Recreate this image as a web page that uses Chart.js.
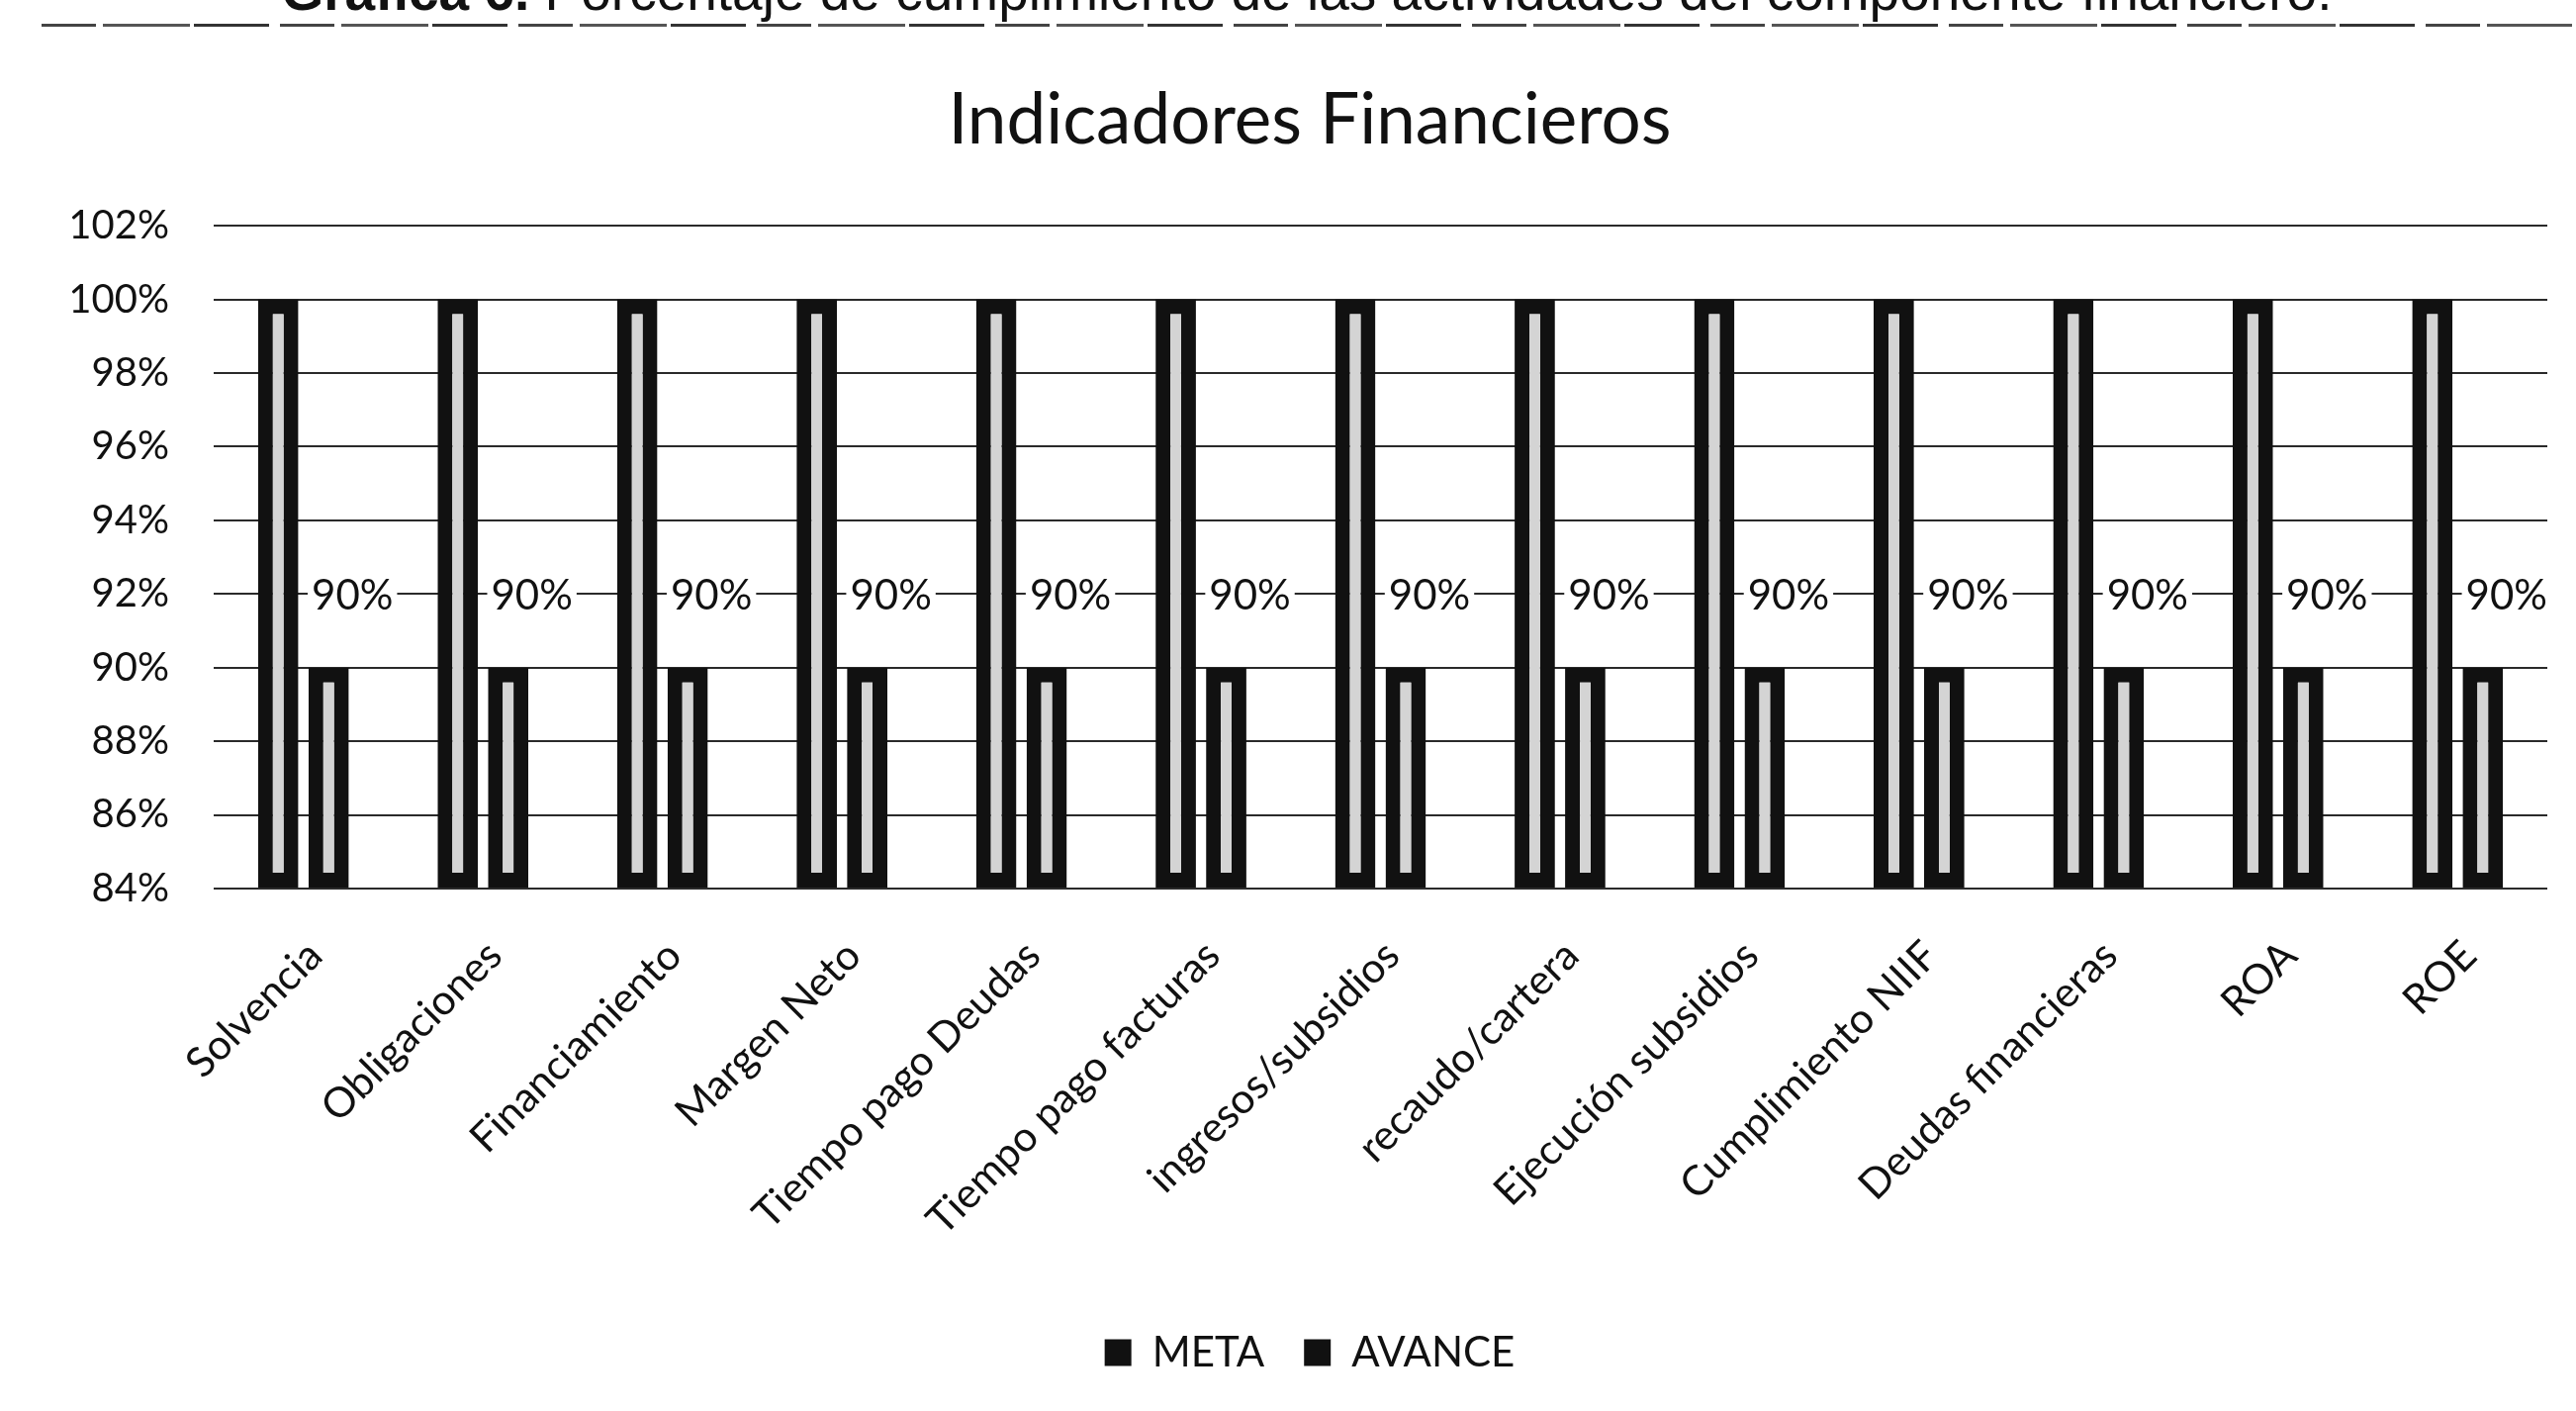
<!DOCTYPE html>
<html lang="es">
<head>
<meta charset="utf-8">
<title>Indicadores Financieros</title>
<script src="https://cdn.jsdelivr.net/npm/chart.js@4.4.1/dist/chart.umd.min.js"></script>
<style>
  html, body { margin: 0; padding: 0; background: #fff; }
  #wrap { position: relative; width: 2604px; height: 1426px; overflow: hidden; background: #fff; }
  #leyenda-grafica {
    position: absolute; top: -36px; left: 19px; width: 2604px;
    text-align: center; white-space: nowrap;
    font-family: "Liberation Sans", Arial, sans-serif; font-size: 55px; line-height: 1; color: #111;
  }
  #raya {
    position: absolute; top: 24px; left: 42px; width: 2558px; height: 3px;
    background: repeating-linear-gradient(90deg, #444 0 55px, #fff 55px 62px, #555 62px 150px, #fff 150px 154px, #333 154px 230px, #fff 230px 241px);
  }
  #grafica { position: absolute; top: 0; left: 0; }
</style>
</head>
<body>
<div id="wrap">
  <div id="leyenda-grafica"><b>Gráfica 6.</b> Porcentaje de cumplimiento de las actividades del componente financiero.</div>
  <div id="raya"></div>
  <canvas id="grafica" width="2604" height="1426"></canvas>
</div>
<script>
// Indicadores y porcentajes
const categorias = [
  'Solvencia', 'Obligaciones', 'Financiamiento', 'Margen Neto',
  'Tiempo pago Deudas', 'Tiempo pago facturas', 'ingresos/subsidios',
  'recaudo/cartera', 'Ejecución subsidios', 'Cumplimiento NIIF',
  'Deudas financieras', 'ROA', 'ROE'
];
const meta =   [100, 100, 100, 100, 100, 100, 100, 100, 100, 100, 100, 100, 100];
const avance = [90, 90, 90, 90, 90, 90, 90, 90, 90, 90, 90, 90, 90];
const ejeMin = 84;
const ejeMax = 102;
const ejePaso = 2;

const FUENTE = 'Lato, "Open Sans", sans-serif';
const TINTA = '#111';

// etiqueta "90%" sobre cada barra de avance, con fondo blanco que corta la cuadricula
const etiquetasAvance = {
  id: 'etiquetasAvance',
  afterDatasetsDraw(chart) {
    const ctx = chart.ctx;
    const meta1 = chart.getDatasetMeta(1);
    ctx.save();
    ctx.font = '42px ' + FUENTE;
    ctx.textAlign = 'center';
    ctx.textBaseline = 'middle';
    meta1.data.forEach((bar, i) => {
      const txt = avance[i] + '%';
      const x = bar.x + 24;
      const y = bar.y - 72;
      const w = ctx.measureText(txt).width;
      ctx.fillStyle = '#fff';
      ctx.fillRect(x - w / 2 - 4, y - 22, w + 8, 44);
      ctx.fillStyle = TINTA;
      ctx.fillText(txt, x, y);
    });
    ctx.restore();
  }
};

const barras = {
  borderColor: TINTA,
  backgroundColor: '#d4d4d4',
  borderWidth: 15,
  borderSkipped: false,
  base: ejeMin,
  categoryPercentage: 0.562,
  barPercentage: 0.8
};

new Chart(document.getElementById('grafica'), {
  type: 'bar',
  data: {
    labels: categorias,
    datasets: [
      Object.assign({ label: 'META', data: meta }, barras),
      Object.assign({ label: 'AVANCE', data: avance }, barras)
    ]
  },
  options: {
    responsive: false,
    animation: false,
    devicePixelRatio: 1,
    layout: { padding: { left: 73, right: 29, top: 0, bottom: 28 } },
    plugins: {
      title: {
        display: true,
        text: 'Indicadores Financieros',
        color: TINTA,
        font: { family: FUENTE, size: 71, weight: 'normal' },
        padding: { top: 80, bottom: 63 }
      },
      legend: {
        position: 'bottom',
        labels: {
          color: TINTA,
          font: { family: FUENTE, size: 42 },
          boxWidth: 27,
          boxHeight: 27,
          padding: 40,
          generateLabels(chart) {
            return chart.data.datasets.map((ds, i) => ({
              text: ds.label,
              fillStyle: TINTA,
              strokeStyle: TINTA,
              lineWidth: 0,
              fontColor: TINTA,
              datasetIndex: i,
              hidden: false
            }));
          }
        }
      },
      tooltip: { enabled: false }
    },
    scales: {
      x: {
        grid: { display: false, drawTicks: false },
        border: { display: false },
        ticks: {
          color: TINTA,
          font: { family: FUENTE, size: 42 },
          minRotation: 45,
          maxRotation: 45,
          padding: 43,
          labelOffset: 12
        },
        afterFit(s) { s.height = 408; }
      },
      y: {
        min: ejeMin,
        max: ejeMax,
        grid: { color: '#2a2a2a', lineWidth: 2, drawTicks: false },
        border: { display: false },
        ticks: {
          stepSize: ejePaso,
          color: TINTA,
          font: { family: FUENTE, size: 40 },
          padding: 45,
          callback: v => v + '%'
        },
        afterFit(s) { s.width = 143; }
      }
    }
  },
  plugins: [etiquetasAvance]
});
</script>
</body>
</html>
